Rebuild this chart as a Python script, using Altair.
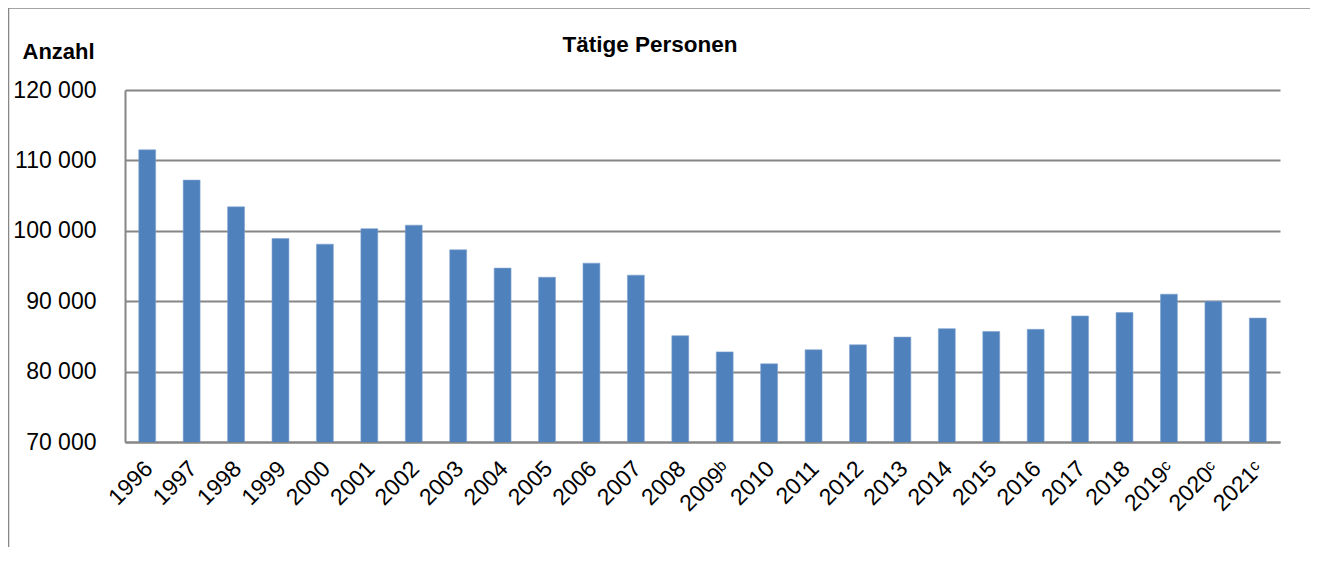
import altair as alt
import pandas as pd

years = ["1996", "1997", "1998", "1999", "2000", "2001", "2002", "2003", "2004",
         "2005", "2006", "2007", "2008", "2009ᵇ", "2010", "2011", "2012", "2013",
         "2014", "2015", "2016", "2017", "2018", "2019ᶜ", "2020ᶜ", "2021ᶜ"]
persons = [111500, 107200, 103400, 98900, 98100, 100300, 100800, 97300, 94700,
           93400, 95400, 93700, 85100, 82800, 81100, 83100, 83800, 84900,
           86100, 85700, 86000, 87900, 88400, 91000, 90000, 87600]
y_ticks = [70000, 80000, 90000, 100000, 110000, 120000]
chart_title = "Tätige Personen"

df = pd.DataFrame({"Jahr": years, "Anzahl": persons})

FONT = "Liberation Sans"
GREY = "#868686"

bars = alt.Chart(df).mark_bar(color="#4F81BD", stroke="#7FA3D0", strokeWidth=0.6,
                              clip=True).encode(
    x=alt.X("Jahr:N", sort=years, title=None,
            scale=alt.Scale(paddingInner=0.62, paddingOuter=0.31),
            axis=alt.Axis(labelAngle=-45, labelFontSize=23, labelFont=FONT,
                          labelColor="black", labelPadding=15, labelOffset=-6,
                          ticks=False, domainColor=GREY, domainWidth=2)),
    y=alt.Y("Anzahl:Q", title="Anzahl",
            scale=alt.Scale(domain=[70000, 120000], nice=False, zero=False),
            axis=alt.Axis(values=y_ticks,
                          labelExpr="replace(format(datum.value, ',d'), ',', ' ')",
                          labelFontSize=23, labelFont=FONT, labelColor="black",
                          labelPadding=29, ticks=False,
                          domainColor=GREY, domainWidth=2,
                          grid=True, gridColor=GREY, gridWidth=2,
                          titleAngle=0, titleX=-103, titleY=-32,
                          titleAlign="left", titleBaseline="alphabetic",
                          titleFont=FONT, titleFontSize=22, titleFontWeight="bold",
                          titleColor="black")),
)

frame_top = alt.Chart(alt.Data(values=[{}])).mark_rule(
    stroke=GREY, strokeWidth=1.5
).encode(
    x=alt.value(-117), x2=alt.value(1300), y=alt.value(-82),
)
frame_left = alt.Chart(alt.Data(values=[{}])).mark_rule(
    stroke=GREY, strokeWidth=1.5
).encode(
    x=alt.value(-116.5), y=alt.value(-82), y2=alt.value(600),
)

title = alt.Chart(alt.Data(values=[{"t": chart_title}])).mark_text(
    font=FONT, fontSize=22.5, fontWeight="bold", color="black",
    align="center", baseline="alphabetic"
).encode(
    text="t:N", x=alt.value(525), y=alt.value(-38),
)

chart = alt.layer(bars, frame_top, frame_left, title).properties(
    width=1155, height=352,
    autosize=alt.AutoSizeParams(type="none"),
    padding={"left": 117, "top": 82, "right": 30, "bottom": 105},
).configure_view(stroke=None).configure_axis(gridOpacity=1)

chart.save("out.html", embed_options={"renderer": "svg", "actions": False})
